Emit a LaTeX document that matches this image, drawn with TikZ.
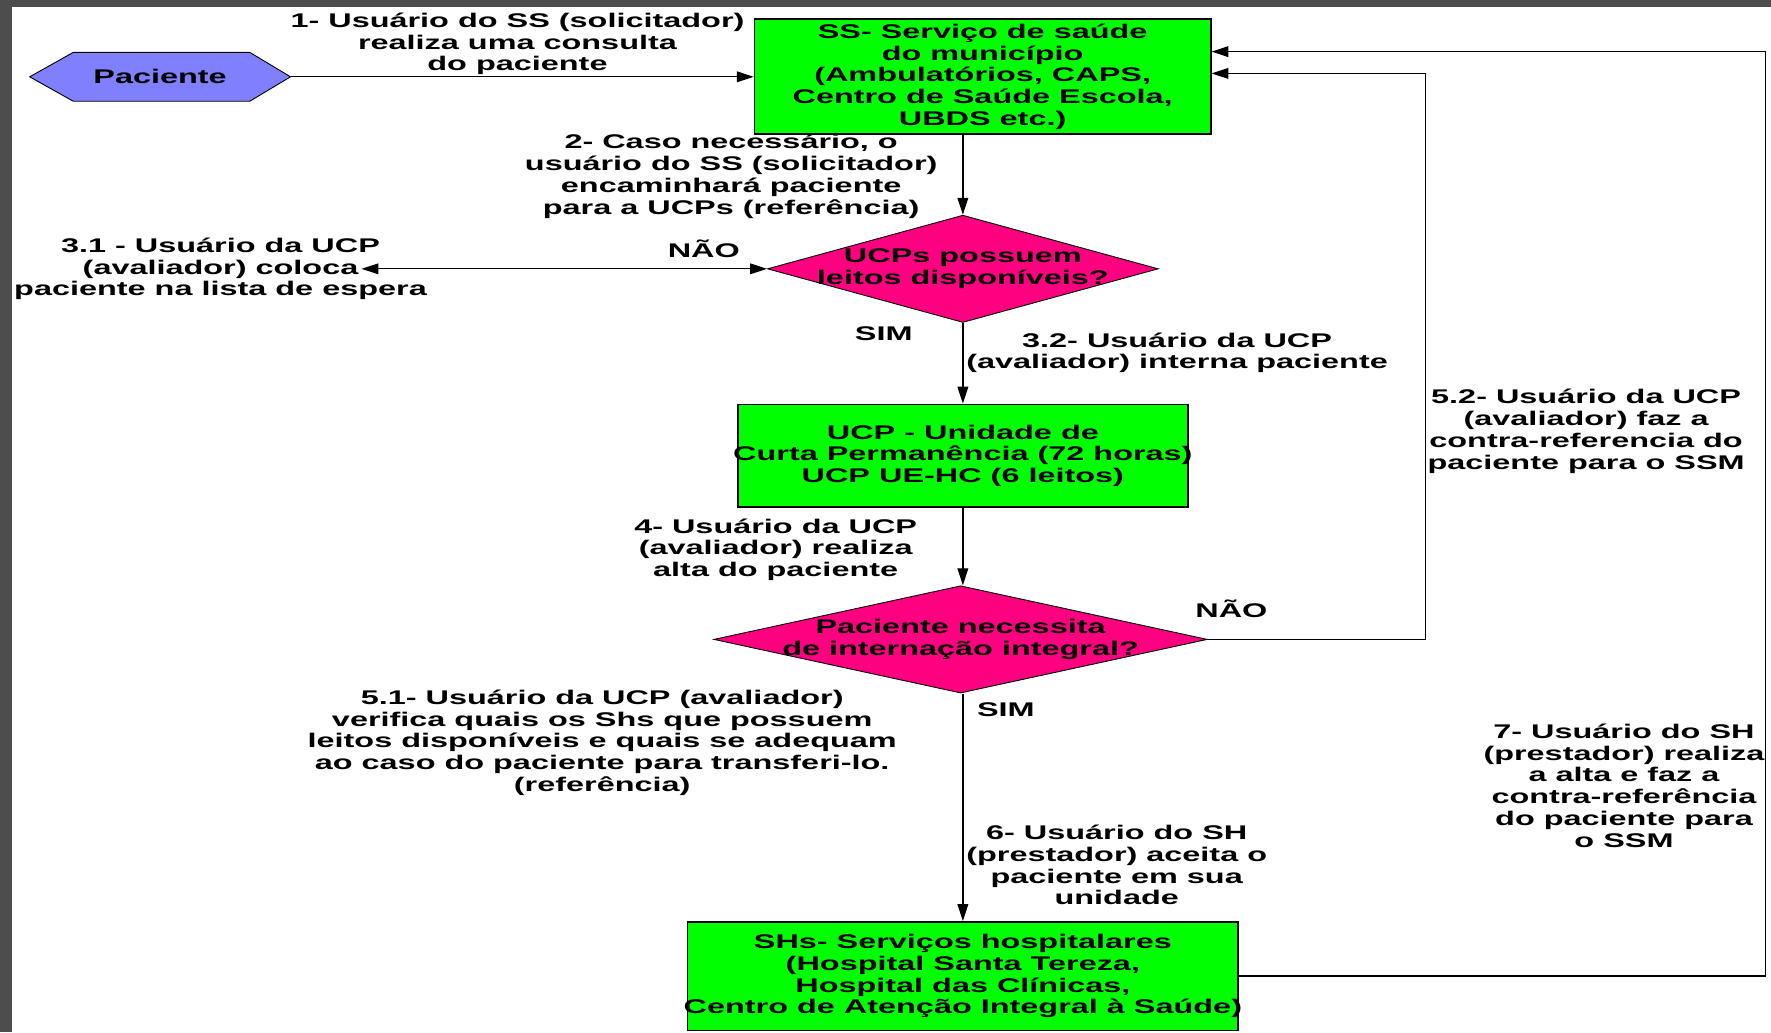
\documentclass[tikz,border=0pt]{standalone}
\usepackage{fontspec}
\usepackage{xcolor}
\usepackage{tikz}
\usetikzlibrary{arrows.meta, positioning, shapes.geometric, backgrounds}
\newfontfamily\diagfont{Liberation Sans}[FakeStretch=1.64]
\newcommand{\flowfont}{\diagfont\bfseries\fontsize{17.5pt}{19.3pt}\selectfont}
\definecolor{unitgreen}{RGB}{0,255,0}
\definecolor{askpink}{RGB}{255,0,128}
\definecolor{patblue}{RGB}{128,128,255}
\definecolor{slidegray}{RGB}{77,77,77}
\tikzset{%
	unit/.style={draw, rectangle, fill=unitgreen, inner sep=0pt, line width=1.3pt},
	ask/.style={draw, diamond, fill=askpink, inner sep=0pt, line width=0.8pt},
	patient/.style={inner sep=0pt, font=\flowfont},
	note/.style={font=\flowfont, align=center, inner sep=0pt},
	says/.style={label={[note]center:{#1}}},
	flow/.style={->, line width=1.1pt}
}

\begin{document}
\begin{tikzpicture}[x=1pt, y=-1pt, >={Triangle[length=15pt, width=9.5pt]}]
	\useasboundingbox (0,0) rectangle (1568,914);
	\fill[slidegray] (0,0) rectangle (1568,6.5);
	\fill[slidegray] (0,0) rectangle (10.2,914);

	\node[patient, minimum width=230.5pt, minimum height=42.8pt] (pac) at (141.75,68) {Paciente};
	\node[unit, minimum width=404pt, minimum height=101.7pt, says={SS- Serviço de saúde\\do município\\(Ambulatórios, CAPS,\\Centro de Saúde Escola,\\UBDS etc.)}] (ss) at (870,67.85) {};
	\node[ask, minimum width=346pt, minimum height=95pt, says={UCPs possuem\\leitos disponíveis?}] (d1) at (852.5,238) {};
	\node[note, left=301pt of d1] (wl) {3.1 - Usuário da UCP\\(avaliador) coloca\\paciente na lista de espera};
	\node[unit, below=71.5pt of d1, minimum width=398.6pt, minimum height=91pt, says={UCP - Unidade de\\Curta Permanência (72 horas)\\UCP UE-HC (6 leitos)}] (ucp) {};
	\node[ask, below=68.5pt of ucp, xshift=-2pt, minimum width=437pt, minimum height=95pt, says={Paciente necessita\\de internação integral?}] (d2) {};
	\node[unit, below=201.5pt of d2, xshift=2pt, minimum width=487.3pt, minimum height=96pt, says={SHs- Serviços hospitalares\\(Hospital Santa Tereza,\\Hospital das Clínicas,\\Centro de Atenção Integral à Saúde)}] (shs) {};

	\begin{scope}[on background layer]
		\draw[fill=patblue, line width=0.8pt] (pac.west) -- ([xshift=38.5pt]pac.north west) -- ([xshift=-36pt]pac.north east) -- (pac.east)
			-- ([xshift=-36pt]pac.south east) -- ([xshift=38.5pt]pac.south west) -- cycle;
	\end{scope}

	\draw[flow] (pac.east) -- node[note, above=1pt, pos=0.49] {1- Usuário do SS (solicitador)\\realiza uma consulta\\do paciente} (pac.east -| ss.west);
	\draw[flow] (ss.south -| d1.north) -- node[note, left=22pt, pos=0.52] {2- Caso necessário, o\\usuário do SS (solicitador)\\encaminhará paciente\\para a UCPs (referência)} (d1.north);
	\draw[flow, <->] (d1.west) -- node[note, above=9.7pt, pos=0.156] {NÃO} ([xshift=-58pt]wl.east);
	\draw[flow] (d1.south) -- node[note, left=44pt, pos=0.13] {SIM}
		node[note, right=2.5pt, pos=0.37] {3.2- Usuário da UCP\\(avaliador) interna paciente} (ucp.north);
	\draw[flow] (ucp.south) -- node[note, left=40pt, pos=0.54] {4- Usuário da UCP\\(avaliador) realiza\\alta do paciente} (ucp.south |- d2.north);
	\draw[flow] (d2.east) -- node[note, above=18.6pt, pos=0.108] {NÃO} ++(193,0)
		|- node[note, right=1pt, pos=0.184] {5.2- Usuário da UCP\\(avaliador) faz a\\contra-referencia do\\paciente para o SSM} ([yshift=2.85pt]ss.east);
	\draw[flow] (d2.south -| shs.north) -- node[note, right=12pt, pos=0.072] {SIM}
		node[note, left=58pt, pos=0.216] {5.1- Usuário da UCP (avaliador)\\verifica quais os Shs que possuem\\leitos disponíveis e quais se adequam\\ao caso do paciente para transferi-lo.\\(referência)}
		node[note, right=2.5pt, pos=0.754] {6- Usuário do SH\\(prestador) aceita o\\paciente em sua\\unidade} (shs.north);
	\draw[flow] (shs.east) -- ++(466,0) |- node[note, left=0pt, pos=0.103] {7- Usuário do SH\\(prestador) realiza\\a alta e faz a\\contra-referência\\do paciente para\\o SSM} ([yshift=22.15pt]ss.east);
\end{tikzpicture}
\end{document}
